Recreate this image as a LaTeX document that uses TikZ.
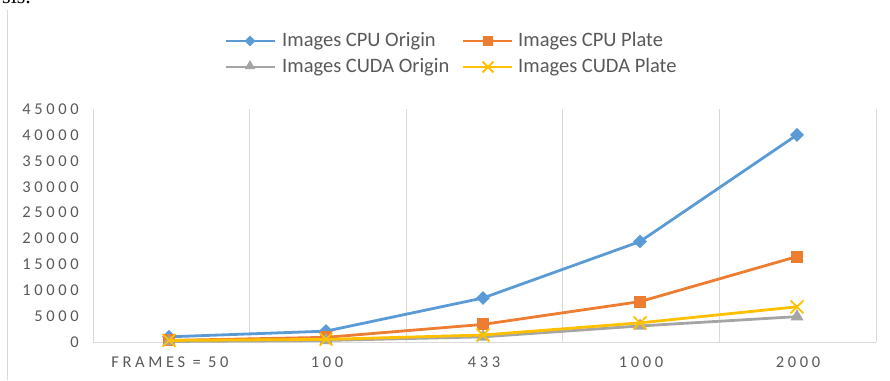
\documentclass[tikz,border=0pt]{standalone}
\usepackage{fontspec}
\setmainfont{Carlito}
\newfontfamily\axisfont[LetterSpace=22]{Carlito}
\newfontfamily\pagefont{Liberation Serif}
\usetikzlibrary{shapes.geometric,shapes.misc}
\definecolor{cpublue}{HTML}{5B9BD5}
\definecolor{cpuorange}{HTML}{ED7D31}
\definecolor{cudagray}{HTML}{A5A5A5}
\definecolor{cudagold}{HTML}{FFC000}
\definecolor{labelgray}{HTML}{595959}
\definecolor{gridgray}{HTML}{D9D9D9}
\tikzset{
  serie/.style={line width=2.8pt, line join=round},
  dmark/.style={diamond, fill=cpublue, inner sep=0pt, minimum size=14pt},
  smark/.style={rectangle, fill=cpuorange, inner sep=0pt, minimum size=12pt},
  tmark/.style={regular polygon, regular polygon sides=3, fill=cudagray, inner sep=0pt, minimum size=15pt},
  xmark/.style={cross out, draw=cudagold, line width=1.8pt, inner sep=0pt, minimum size=11pt},
  legtext/.style={anchor=west, text=labelgray, font=\fontsize{20.5}{24}\selectfont, inner sep=0pt},
  ylab/.style={anchor=east, text=labelgray, font=\axisfont\fontsize{16.5}{19}\selectfont, inner sep=0pt},
  xlab/.style={text=labelgray, font=\axisfont\fontsize{16.5}{19}\selectfont, inner sep=0pt},
}
\begin{document}
\begin{tikzpicture}[x=1pt,y=-1pt]
	\useasboundingbox (0,0) rectangle (890,380);
	%\draw [help lines] (0,0) grid (890,380);
	\begin{scope}
		\clip (0,0) rectangle (890,380);
		\node [anchor=base west, inner sep=0pt, font=\pagefont\fontsize{22}{26}\selectfont] (tail) at (-9,3) {ysis.};
	\end{scope}
	\draw [gridgray, line width=1pt] (7,10) -- (7,380);
	
	% legend
	\draw [serie, cpublue] (226,41) -- (275,41);
	\node [dmark, minimum size=11pt] (l1) at (250,41) {};
	\node [legtext] (t1) at (282,41) {Images CPU Origin};
	\draw [serie, cpuorange] (463,41) -- (512,41);
	\node [smark, minimum size=10pt] (l2) at (488,41) {};
	\node [legtext] (t2) at (518,41) {Images CPU Plate};
	\draw [serie, cudagray] (226,67) -- (275,67);
	\node [tmark, minimum size=12pt] (l3) at (250,66) {};
	\node [legtext] (t3) at (282,67) {Images CUDA Origin};
	\draw [serie, cudagold] (463,67) -- (512,67);
	\node [xmark, minimum size=9pt] (l4) at (488,67) {};
	\node [legtext] (t4) at (518,67) {Images CUDA Plate};
	
	% grid and axis
	\draw [gridgray, line width=1pt] (93,109) -- (93,342);
	\draw [gridgray, line width=1pt] (249.6,109) -- (249.6,342);
	\draw [gridgray, line width=1pt] (406.2,109) -- (406.2,342);
	\draw [gridgray, line width=1pt] (562.8,109) -- (562.8,342);
	\draw [gridgray, line width=1pt] (719.4,109) -- (719.4,342);
	\draw [gridgray, line width=1pt] (876,109) -- (876,342);
	\draw [gridgray, line width=1pt] (93,342) -- (876,342);
	
	\node [ylab] (y0) at (79,342) {0};
	\node [ylab] (y1) at (79,316.1) {5000};
	\node [ylab] (y2) at (79,290.2) {10000};
	\node [ylab] (y3) at (79,264.3) {15000};
	\node [ylab] (y4) at (79,238.4) {20000};
	\node [ylab] (y5) at (79,212.6) {25000};
	\node [ylab] (y6) at (79,186.7) {30000};
	\node [ylab] (y7) at (79,160.8) {35000};
	\node [ylab] (y8) at (79,134.9) {40000};
	\node [ylab] (y9) at (79,109) {45000};
	
	\node [xlab] (x1) at (170,362) {FRAMES = 50};
	\node [xlab] (x2) at (327,362) {100};
	\node [xlab] (x3) at (484,362) {433};
	\node [xlab] (x4) at (641,362) {1000};
	\node [xlab] (x5) at (798,362) {2000};
	
	% data, values in thousands
	\begin{scope}[shift={(0,342)}, y=5.178pt]
		\coordinate (o1) at (169,1.0);
		\coordinate (o2) at (326,2.1);
		\coordinate (o3) at (483,8.5);
		\coordinate (o4) at (640,19.4);
		\coordinate (o5) at (797,40.0);
		\coordinate (p1) at (169,0.3);
		\coordinate (p2) at (326,0.9);
		\coordinate (p3) at (483,3.4);
		\coordinate (p4) at (640,7.8);
		\coordinate (p5) at (797,16.5);
		\coordinate (g1) at (169,0.1);
		\coordinate (g2) at (326,0.3);
		\coordinate (g3) at (483,1.0);
		\coordinate (g4) at (640,3.1);
		\coordinate (g5) at (797,4.9);
		\coordinate (c1) at (169,0.3);
		\coordinate (c2) at (326,0.5);
		\coordinate (c3) at (483,1.35);
		\coordinate (c4) at (640,3.7);
		\coordinate (c5) at (797,6.8);
	\end{scope}
	
	\draw [serie, cpublue] (o1) -- (o2) -- (o3) -- (o4) -- (o5);
	\node [dmark] at (o1) {};
	\node [dmark] at (o2) {};
	\node [dmark] at (o3) {};
	\node [dmark] at (o4) {};
	\node [dmark] at (o5) {};
	
	\draw [serie, cpuorange] (p1) -- (p2) -- (p3) -- (p4) -- (p5);
	\node [smark] at (p1) {};
	\node [smark] at (p2) {};
	\node [smark] at (p3) {};
	\node [smark] at (p4) {};
	\node [smark] at (p5) {};
	
	\draw [serie, cudagray] (g1) -- (g2) -- (g3) -- (g4) -- (g5);
	\node [tmark] at (g1) {};
	\node [tmark] at (g2) {};
	\node [tmark] at (g3) {};
	\node [tmark] at (g4) {};
	\node [tmark] at (g5) {};
	
	\draw [serie, cudagold] (c1) -- (c2) -- (c3) -- (c4) -- (c5);
	\node [xmark] at (c1) {};
	\node [xmark] at (c2) {};
	\node [xmark] at (c3) {};
	\node [xmark] at (c4) {};
	\node [xmark] at (c5) {};
\end{tikzpicture}
\end{document}
